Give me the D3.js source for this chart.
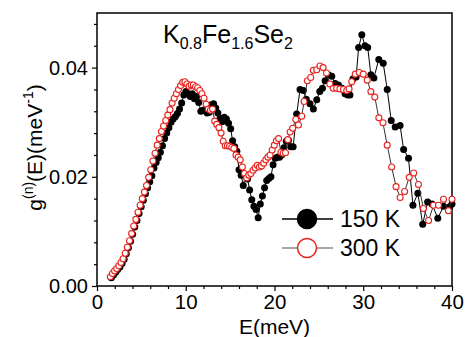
<!DOCTYPE html>
<html>
<head>
<meta charset="utf-8">
<script src="https://cdn.jsdelivr.net/npm/d3@7"></script>
<style>
body { margin: 0; background: #fff; }
text { font-family: "Liberation Sans", Arial, sans-serif; fill: #000; }
</style>
</head>
<body>
<div id="chart"></div>
<script>
// 150 K (filled black)
var e150 = [1.62, 1.86, 2.10, 2.34, 2.58, 2.82, 3.06, 3.30, 3.54, 3.78, 4.02, 4.26, 4.50, 4.74, 4.98,
  5.22, 5.46, 5.70, 5.94, 6.18, 6.42, 6.66, 6.90, 7.14, 7.38, 7.62, 7.86, 8.10, 8.34, 8.58, 8.82,
  9.06, 9.30, 9.54, 9.78, 10.02, 10.26, 10.50, 10.74, 10.98, 11.22, 11.46, 11.70, 11.94, 12.18,
  12.42, 12.66, 12.90, 13.14, 13.38, 13.62, 13.86, 14.10, 14.34, 14.58, 14.82, 15.06, 15.28,
  15.52, 15.76, 16.00, 16.24, 16.48, 16.72, 16.96, 17.20, 17.44, 17.68, 17.92, 18.16, 18.40,
  18.64, 18.88, 19.12, 19.36, 19.60, 19.84, 20.08, 20.32, 20.56, 20.80, 21.06, 21.32, 21.58,
  21.84, 22.10, 22.50, 22.88, 23.25, 23.58, 24.00, 24.38, 24.76, 25.10, 25.40, 25.70, 26.07,
  26.45, 26.83, 27.20, 27.58, 27.95, 28.25, 28.50, 28.83, 29.20, 29.48, 29.84, 30.20, 30.50,
  30.86, 31.20, 31.75, 32.25, 32.70, 33.15, 33.60, 34.15, 34.55, 35.10, 35.60, 36.15, 36.70,
  37.25, 37.75, 38.40, 39.05, 39.75, 40.00];
var g150 = [0.0015, 0.0020, 0.0025, 0.0030, 0.0035, 0.0041, 0.0049, 0.0059, 0.0070, 0.0082, 0.0095,
  0.0108, 0.0120, 0.0133, 0.0145, 0.0157, 0.0169, 0.0180, 0.0191, 0.0202, 0.0216, 0.0226, 0.0235,
  0.0245, 0.0257, 0.0270, 0.0280, 0.0290, 0.0300, 0.0306, 0.0310, 0.0316, 0.0324, 0.0335, 0.0350,
  0.0356, 0.0352, 0.0347, 0.0352, 0.0343, 0.0347, 0.0336, 0.0320, 0.0322, 0.0321, 0.0317, 0.0318,
  0.0332, 0.0334, 0.0326, 0.0317, 0.0307, 0.0301, 0.0309, 0.0306, 0.0298, 0.0288, 0.0266, 0.0255,
  0.0247, 0.0213, 0.0203, 0.0184, 0.0202, 0.0196, 0.0176, 0.0158, 0.0146, 0.0140, 0.0125, 0.0150,
  0.0165, 0.0180, 0.0193, 0.0197, 0.0200, 0.0222, 0.0234, 0.0236, 0.0236, 0.0240, 0.0253, 0.0265,
  0.0267, 0.0255, 0.0255, 0.0315, 0.0360, 0.0358, 0.0342, 0.0334, 0.0324, 0.0341, 0.0356, 0.0362,
  0.0376, 0.0387, 0.0384, 0.0371, 0.0368, 0.0362, 0.0352, 0.0350, 0.0350, 0.0379, 0.0383, 0.0437,
  0.0460, 0.0440, 0.0437, 0.0387, 0.0381, 0.0415, 0.0408, 0.0360, 0.0303, 0.0291, 0.0294, 0.0250,
  0.0234, 0.0148, 0.0170, 0.0113, 0.0154, 0.0150, 0.0124, 0.0146, 0.0145, 0.0150];

// 300 K (open red)
var e300 = [1.50, 1.74, 1.98, 2.22, 2.46, 2.70, 2.94, 3.18, 3.42, 3.66, 3.90, 4.14, 4.38, 4.62, 4.86,
  5.10, 5.34, 5.58, 5.82, 6.06, 6.30, 6.54, 6.78, 7.02, 7.26, 7.50, 7.74, 7.98, 8.22, 8.46, 8.70,
  8.94, 9.18, 9.42, 9.66, 9.90, 10.14, 10.38, 10.62, 10.86, 11.10, 11.34, 11.58, 11.82, 12.06,
  12.30, 12.54, 12.78, 13.02, 13.26, 13.50, 13.74, 13.98, 14.22, 14.46, 14.70, 14.94, 15.18,
  15.42, 15.66, 15.90, 16.14, 16.38, 16.62, 16.86, 17.10, 17.34, 17.58, 17.82, 18.06, 18.30,
  18.54, 18.78, 19.02, 19.26, 19.50, 19.74, 19.98, 20.22, 20.46, 20.72, 20.98, 21.24, 21.50,
  21.76, 22.05, 22.40, 22.70, 23.07, 23.33, 23.70, 24.08, 24.38, 24.76, 25.12, 25.48, 25.86,
  26.24, 26.62, 27.00, 27.38, 27.76, 28.14, 28.40, 28.70, 29.10, 29.55, 30.00, 30.45, 30.86,
  31.30, 31.76, 32.22, 32.70, 33.20, 33.70, 34.16, 34.66, 35.18, 35.68, 36.22, 36.78, 37.36,
  37.92, 38.48, 39.04, 39.60, 40.00];
var g300 = [0.0017, 0.0023, 0.0028, 0.0032, 0.0037, 0.0043, 0.0050, 0.0060, 0.0071, 0.0083, 0.0096,
  0.0110, 0.0122, 0.0135, 0.0148, 0.0160, 0.0172, 0.0184, 0.0199, 0.0213, 0.0229, 0.0243, 0.0258,
  0.0270, 0.0283, 0.0293, 0.0303, 0.0313, 0.0323, 0.0335, 0.0344, 0.0352, 0.0360, 0.0367, 0.0373,
  0.0374, 0.0370, 0.0366, 0.0368, 0.0368, 0.0365, 0.0363, 0.0358, 0.0352, 0.0344, 0.0333, 0.0324,
  0.0322, 0.0324, 0.0302, 0.0296, 0.0290, 0.0280, 0.0265, 0.0257, 0.0257, 0.0256, 0.0254, 0.0252,
  0.0240, 0.0236, 0.0231, 0.0218, 0.0206, 0.0198, 0.0203, 0.0206, 0.0212, 0.0216, 0.0221, 0.0218,
  0.0220, 0.0225, 0.0231, 0.0236, 0.0240, 0.0249, 0.0258, 0.0266, 0.0270, 0.0245, 0.0243, 0.0244,
  0.0268, 0.0282, 0.0289, 0.0305, 0.0295, 0.0311, 0.0338, 0.0376, 0.0382, 0.0395, 0.0396, 0.0403,
  0.0400, 0.0390, 0.0370, 0.0362, 0.0362, 0.0361, 0.0360, 0.0358, 0.0361, 0.0374, 0.0388, 0.0391,
  0.0388, 0.0377, 0.0356, 0.0346, 0.0308, 0.0299, 0.0258, 0.0218, 0.0182, 0.0162, 0.0173, 0.0199,
  0.0207, 0.0186, 0.0142, 0.0120, 0.0148, 0.0148, 0.0159, 0.0138, 0.0159];

var xTicks = [0, 10, 20, 30, 40];
var yTicks = [0.00, 0.02, 0.04];
var seriesNames = ["150 K", "300 K"];

var W = 465, H = 337;
var pLeft = 97, pRight = 452, pTop = 13, pBottom = 286;

var svg = d3.select("#chart").append("svg")
  .attr("width", W).attr("height", H);

var x = d3.scaleLinear().domain([0, 40]).range([pLeft, pRight]);
var y = d3.scaleLinear().domain([0, 0.05]).range([pBottom, pTop]);

// minor ticks
var xMinor = d3.range(0, 40.01, 2).filter(function(v) { return v % 10 !== 0; });
var yMinor = d3.range(0.004, 0.0501, 0.004).filter(function(v) { return Math.abs(v / 0.02 - Math.round(v / 0.02)) > 1e-6; });

svg.append("g")
  .attr("transform", "translate(0," + pBottom + ")")
  .call(d3.axisBottom(x).tickValues(xMinor).tickSize(3).tickFormat(""))
  .call(function(g) { g.select(".domain").remove(); });
svg.append("g")
  .attr("transform", "translate(" + pLeft + ",0)")
  .call(d3.axisLeft(y).tickValues(yMinor).tickSize(3).tickFormat(""))
  .call(function(g) { g.select(".domain").remove(); });

// major ticks
var xAxis = svg.append("g")
  .attr("transform", "translate(0," + pBottom + ")")
  .call(d3.axisBottom(x).tickValues(xTicks).tickSize(5).tickPadding(3).tickFormat(d3.format("d")));
xAxis.select(".domain").remove();
xAxis.selectAll("text").style("font-size", "20.5px");

var yAxis = svg.append("g")
  .attr("transform", "translate(" + pLeft + ",0)")
  .call(d3.axisLeft(y).tickValues(yTicks).tickSize(5).tickPadding(4).tickFormat(d3.format(".2f")));
yAxis.select(".domain").remove();
yAxis.selectAll("text").style("font-size", "20px");

svg.selectAll(".tick line").attr("stroke", "#000").attr("stroke-width", 1.2);

// frame
svg.append("rect")
  .attr("x", pLeft).attr("y", pTop)
  .attr("width", pRight - pLeft).attr("height", pBottom - pTop)
  .attr("fill", "none").attr("stroke", "#000").attr("stroke-width", 1.5);

var line = d3.line()
  .x(function(d) { return x(d[0]); })
  .y(function(d) { return y(d[1]); });

var d150 = d3.zip(e150, g150);
var d300 = d3.zip(e300, g300);

// 150 K
svg.append("path").datum(d150)
  .attr("d", line).attr("fill", "none").attr("stroke", "#000").attr("stroke-width", 1);
svg.append("g").selectAll("circle").data(d150).enter().append("circle")
  .attr("cx", function(d) { return x(d[0]); })
  .attr("cy", function(d) { return y(d[1]); })
  .attr("r", 3.5).attr("fill", "#000");

// 300 K
svg.append("path").datum(d300)
  .attr("d", line).attr("fill", "none").attr("stroke", "#333").attr("stroke-width", 1);
svg.append("g").selectAll("circle").data(d300).enter().append("circle")
  .attr("cx", function(d) { return x(d[0]); })
  .attr("cy", function(d) { return y(d[1]); })
  .attr("r", 3).attr("fill", "#fff").attr("stroke", "#e8231f").attr("stroke-width", 1.1);

// legend
var leg = svg.append("g");
[0, 1].forEach(function(i) {
  var ly = 219 + i * 29;
  leg.append("line").attr("x1", 282).attr("x2", 333).attr("y1", ly).attr("y2", ly)
    .attr("stroke", i === 0 ? "#000" : "#888").attr("stroke-width", 1.3);
  leg.append("circle").attr("cx", 307).attr("cy", ly).attr("r", 9.5)
    .attr("fill", i === 0 ? "#000" : "#fff")
    .attr("stroke", i === 0 ? "#000" : "#e8231f").attr("stroke-width", 1.5);
  leg.append("text").attr("x", 340).attr("y", ly + 8)
    .style("font-size", "23px").text(seriesNames[i]);
});

// compound label
var lab = svg.append("text").attr("x", 163).attr("y", 43).style("font-size", "25px");
[["K", 0], ["0.8", 1], ["Fe", 0], ["1.6", 1], ["Se", 0], ["2", 1]].forEach(function(p, i) {
  lab.append("tspan").text(p[0])
    .attr("dy", p[1] ? 6 : (i > 0 ? -6 : 0))
    .style("font-size", p[1] ? "16px" : "25px");
});

// axis titles
svg.append("text")
  .attr("x", (pLeft + pRight) / 2).attr("y", 334)
  .attr("text-anchor", "middle").style("font-size", "21px").text("E(meV)");

var yt = svg.append("text")
  .attr("transform", "translate(42," + ((pTop + pBottom) / 2 - 2) + ") rotate(-90)")
  .attr("text-anchor", "middle").style("font-size", "21px");
yt.append("tspan").text("g");
yt.append("tspan").text("(n)").attr("dy", -9).style("font-size", "14px");
yt.append("tspan").text("(E)(meV").attr("dy", 9);
yt.append("tspan").text("-1").attr("dy", -9).style("font-size", "14px");
yt.append("tspan").text(")").attr("dy", 9);
</script>
</body>
</html>
